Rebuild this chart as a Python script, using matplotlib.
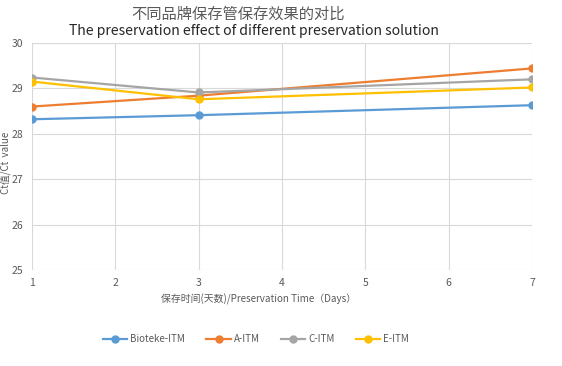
import matplotlib
matplotlib.use('Agg')
import matplotlib.pyplot as plt

plt.rcParams['font.family'] = ['Noto Sans CJK SC', 'DejaVu Sans']

# data
days = [1, 3, 7]
bioteke = [28.32, 28.41, 28.63]
a_itm = [28.60, 28.84, 29.44]
c_itm = [29.24, 28.91, 29.20]
e_itm = [29.15, 28.76, 29.02]

series = [
    ('Bioteke-ITM', bioteke, '#5B9BD5'),
    ('A-ITM', a_itm, '#ED7D31'),
    ('C-ITM', c_itm, '#A5A5A5'),
    ('E-ITM', e_itm, '#FFC000'),
]

fig = plt.figure(figsize=(5.62, 3.66), dpi=100)
ax = fig.add_axes([32 / 562, 1 - 270 / 366, 500 / 562, 227 / 366])

for name, vals, col in series:
    ax.plot(days, vals, color=col, lw=1.6, marker='o', ms=5, label=name)

ax.set_xlim(1, 7)
ax.set_ylim(25, 30)
ax.set_xticks(range(1, 8))
ax.set_yticks(range(25, 31))
ax.grid(True, color='#d9d9d9', lw=0.8)
ax.set_axisbelow(True)
for s in ax.spines.values():
    s.set_visible(False)
ax.tick_params(length=0, labelsize=7.5, colors='#595959')
ax.tick_params(axis='x', pad=6)
ax.tick_params(axis='y', pad=6)

fig.text(238 / 562, 1 - 14 / 366, '不同品牌保存管保存效果的对比', ha='center', va='center',
         fontsize=11, color='#595959')
fig.text(254 / 562, 1 - 31 / 366, 'The preservation effect of different preservation solution',
         ha='center', va='center', fontsize=10.1, color='#262626')
fig.text(6 / 562, 1 - 163 / 366, 'Ct值/Ct  value', rotation=90, ha='center', va='center',
         fontsize=7, color='#595959')
fig.text(259 / 562, 1 - 299 / 366, '保存时间(天数)/Preservation Time（Days）', ha='center',
         va='center', fontsize=7.1, color='#595959')

leg = fig.legend(loc='center', bbox_to_anchor=(256 / 562, 1 - 339 / 366), ncol=4,
                 frameon=False, fontsize=7, handlelength=2.5, columnspacing=2.2,
                 handletextpad=0.3)
for t in leg.get_texts():
    t.set_color('#595959')

fig.savefig('out.png', dpi=100)
